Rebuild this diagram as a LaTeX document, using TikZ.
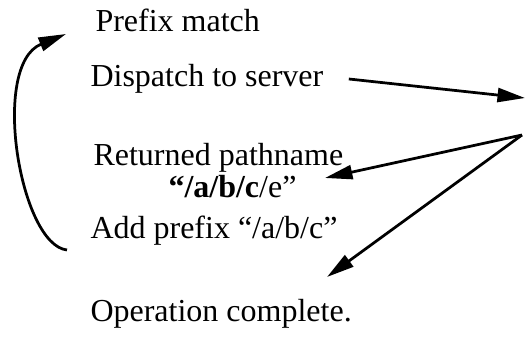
\documentclass[tikz,border=0pt]{standalone}
\usepackage{fontspec}
\setmainfont{Liberation Serif}
\usetikzlibrary{arrows.meta,positioning,calc}

\begin{document}
\begin{tikzpicture}[x=0.4pt,y=-0.4pt,
    step label/.style={font=\fontsize{12.8}{14}\selectfont, inner sep=0pt, anchor=base west},
    flow/.style={-{Triangle[length=11pt,width=5.6pt]}, line width=1.1pt}]
    \useasboundingbox (0,0) rectangle (526,337);

    % Steps, top to bottom
    \node[step label] (prefix)    at (95,32)  {Prefix match};
    \node[step label] (dispatch)  at (90,87)  {Dispatch to server};
    \node[step label] (returned)  at (93,166) {Returned pathname};
    \node[step label] (pathname)  at (168,198) {\textbf{“/a/b/c}/e”};
    \node[step label] (addprefix) at (90,239) {Add prefix “/a/b/c”};
    \node[step label] (done)      at (90,322) {Operation complete.};

    % Server end
    \coordinate (server) at (525,98);
    \coordinate (reply)  at (522,135);

    % Out to the server and back
    \draw[flow] ($(dispatch.base east)+(25,-8)$) -- (server);
    \draw[flow] (reply) -- ($(pathname.base east)+(28,-20)$);
    \draw[flow] (reply) -- ($(done.base west)+(237,-45)$);

    % Loop back to the prefix match
    \draw[flow] ($(addprefix.base west)+(-23,11)$)
        .. controls (20,245) and (-10,65) .. ($(prefix.base west)+(-29,2)$);
\end{tikzpicture}
\end{document}
